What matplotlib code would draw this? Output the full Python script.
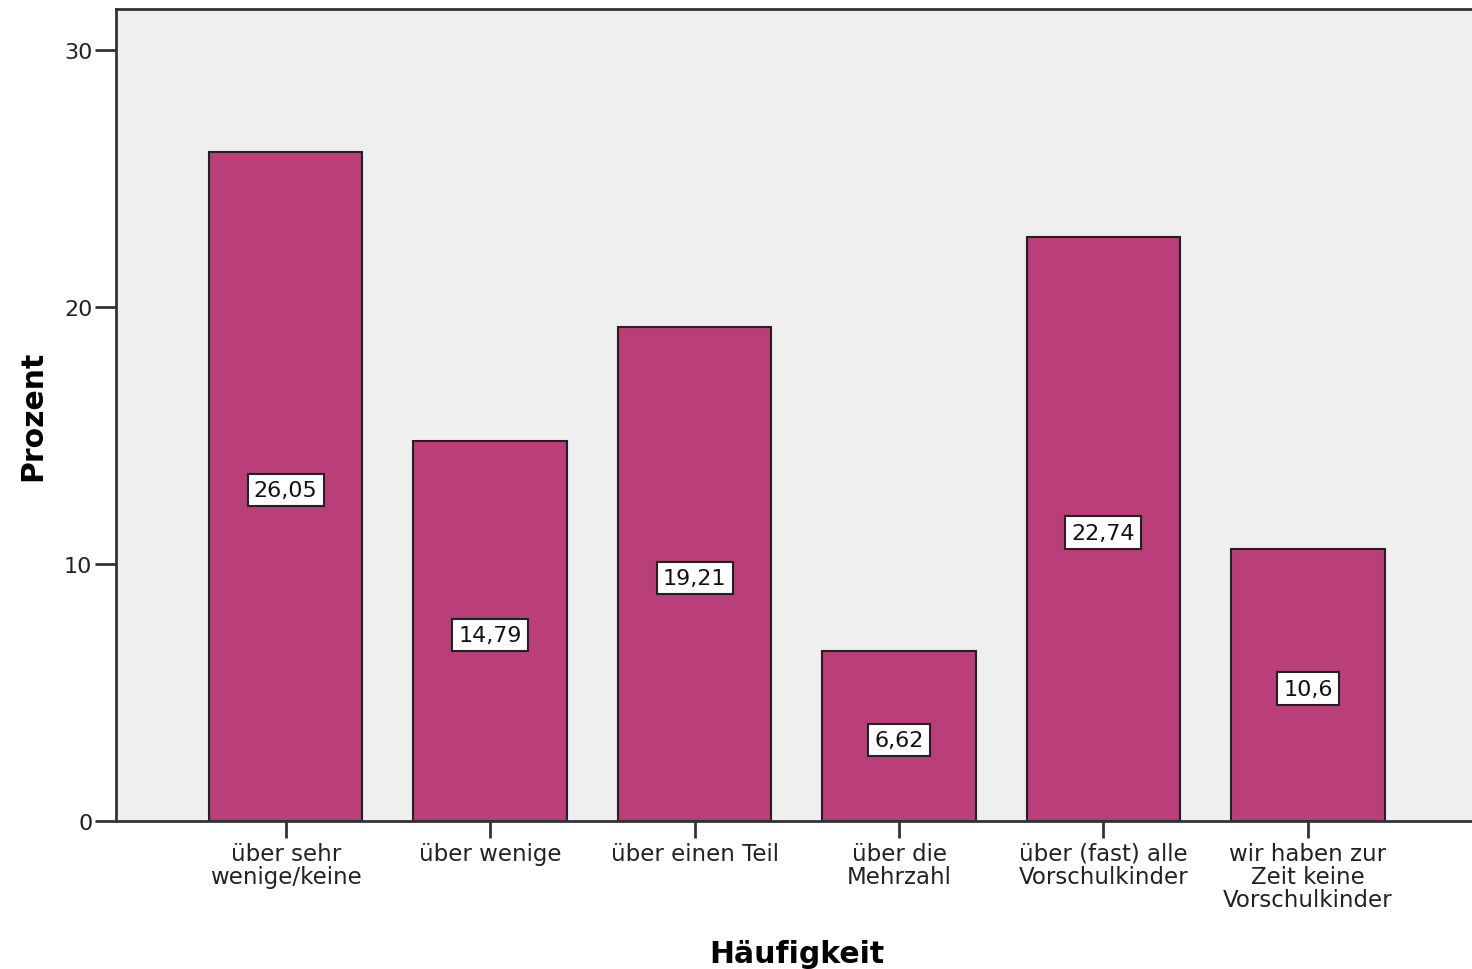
import matplotlib.pyplot as plt

# Antworthäufigkeiten in Prozent
kategorien = [
    "über sehr\nwenige/keine",
    "über wenige",
    "über einen Teil",
    "über die\nMehrzahl",
    "über (fast) alle\nVorschulkinder",
    "wir haben zur\nZeit keine\nVorschulkinder",
]
prozent = [26.05, 14.79, 19.21, 6.62, 22.74, 10.6]
y_ticks = [0, 10, 20, 30]

plt.rcParams["font.family"] = ["DejaVu Sans"]

fig = plt.figure(figsize=(14.72, 9.70), dpi=100)
ax = fig.add_axes([0.0788, 0.1526, 0.925, 0.8371])
ax.set_facecolor("#efefef")

x = range(len(kategorien))
ax.bar(x, prozent, width=0.75, color="#ba3e7a", edgecolor="#222222", linewidth=1.5, zorder=2)

# Wert-Etiketten in der Mitte jedes Balkens
for xi, v in zip(x, prozent):
    txt = f"{v:g}".replace(".", ",")
    ax.text(xi, v / 2 - 0.15, txt, ha="center", va="center", fontsize=16, color="#111111",
            bbox=dict(boxstyle="square,pad=0.28", facecolor="white", edgecolor="#222222", linewidth=1.5),
            zorder=3)

ax.set_xlim(-0.83, 5.83)
ax.set_ylim(0, 31.6)
ax.set_xticks(list(x))
ax.set_xticklabels(kategorien, fontsize=16.5, color="#222222", linespacing=1.0)
ax.set_yticks(y_ticks)
ax.set_yticklabels([str(t) for t in y_ticks], fontsize=16, color="#222222")
ax.tick_params(axis="y", length=15, width=2, color="#333333", pad=2)
ax.tick_params(axis="x", length=12, width=2, color="#333333", pad=3)

for side in ["left", "bottom", "top"]:
    ax.spines[side].set_linewidth(2)
    ax.spines[side].set_color("#333333")
ax.spines["right"].set_visible(False)

ax.set_xlabel("Häufigkeit", fontsize=21.5, fontweight="bold", labelpad=20)
ax.set_ylabel("Prozent", fontsize=21.5, fontweight="bold", labelpad=12)

fig.savefig("out.png", dpi=100)
